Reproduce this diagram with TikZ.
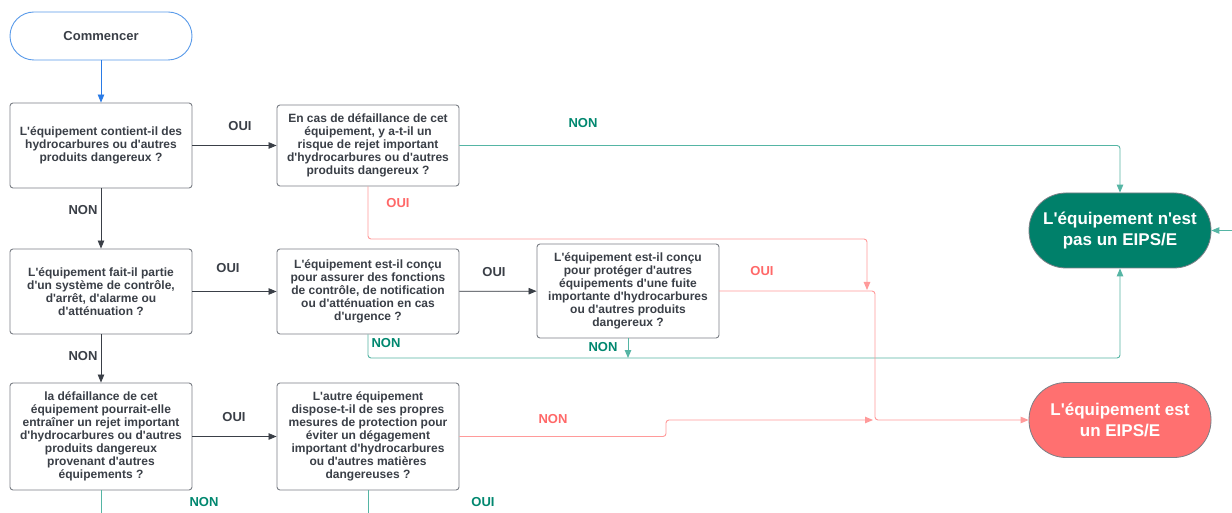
\documentclass[tikz,border=0pt]{standalone}
\usepackage{fontspec}
\setmainfont{Liberation Sans}[Ligatures=TeXOff]
\usetikzlibrary{arrows.meta}
\definecolor{ink}{HTML}{3A3F47}
\definecolor{frame}{HTML}{7B7F86}
\definecolor{tealfill}{HTML}{00806A}
\definecolor{tealline}{HTML}{55B5A4}
\definecolor{teallab}{HTML}{00876F}
\definecolor{redfill}{HTML}{FF7070}
\definecolor{redline}{HTML}{FF9A9A}
\definecolor{redlab}{HTML}{FF6868}
\definecolor{startblue}{HTML}{5A9BEA}
\definecolor{arrowblue}{HTML}{2A7BE6}
\tikzset{
  qbox/.style={draw=frame, line width=0.9pt, fill=white, rounded corners=3pt,
    minimum width=182pt, align=center, text=ink,
    font=\bfseries\fontsize{12}{13}\selectfont, inner sep=2pt},
  pill/.style={rounded corners=#1, minimum width=182pt, align=center},
  lab/.style={font=\bfseries\fontsize{13}{14}\selectfont, inner sep=0pt},
  tip/.style={-{Triangle[length=8pt,width=6.5pt]}},
  darkln/.style={draw=ink, line width=0.8pt},
  tealln/.style={draw=tealline, line width=0.9pt, rounded corners=3pt},
  tealtip/.style={tealln, tip, color=tealline},
  redln/.style={draw=redline, line width=0.9pt, rounded corners=3pt},
  redtip/.style={redln, tip, color=redline},
}
\begin{document}
\begin{tikzpicture}[x=1pt, y=-1pt]
\useasboundingbox[fill=white] (0,0) rectangle (1232,513);

% start and end terminals
\node[pill=24pt, draw=startblue, line width=0.9pt, fill=white, minimum height=48pt,
  text=ink, font=\bfseries\fontsize{13}{14}\selectfont] (start) at (101,36) {Commencer};
\node[pill=37pt, draw=frame, line width=0.8pt, fill=tealfill, minimum height=75pt,
  text=white, font=\bfseries\fontsize{17}{21}\selectfont] (notE) at (1120,230.5)
  {L'équipement n'est\\pas un EIPS/E};
\node[pill=37pt, draw=frame, line width=0.8pt, fill=redfill, minimum height=75pt,
  text=white, font=\bfseries\fontsize{17}{21}\selectfont] (isE) at (1120,420)
  {L'équipement est\\un EIPS/E};

% question boxes
\node[qbox, minimum height=85pt] (q1) at (101,145.5)
  {L'équipement contient-il des\\hydrocarbures ou d'autres\\produits dangereux ?};
\node[qbox, minimum height=81pt] (q2) at (368,145.5)
  {En cas de défaillance de cet\\équipement, y a-t-il un\\risque de rejet important\\d'hydrocarbures ou d'autres\\produits dangereux ?};
\node[qbox, minimum height=85pt] (q3) at (101,291.5)
  {L'équipement fait-il partie\\d'un système de contrôle,\\d'arrêt, d'alarme ou\\d'atténuation ?};
\node[qbox, minimum height=85pt] (q4) at (368,291.5)
  {L'équipement est-il conçu\\pour assurer des fonctions\\de contrôle, de notification\\ou d'atténuation en cas\\d'urgence ?};
\node[qbox, minimum height=94pt] (q5) at (628,291)
  {L'équipement est-il conçu\\pour protéger d'autres\\équipements d'une fuite\\importante d'hydrocarbures\\ou d'autres produits\\dangereux ?};
\node[qbox, minimum height=107pt] (q6) at (101,436.5)
  {la défaillance de cet\\équipement pourrait-elle\\entraîner un rejet important\\d'hydrocarbures ou d'autres\\produits dangereux\\provenant d'autres\\équipements ?};
\node[qbox, minimum height=107pt] (q7) at (368,436.5)
  {L'autre équipement\\dispose-t-il de ses propres\\mesures de protection pour\\éviter un dégagement\\important d'hydrocarbures\\ou d'autres matières\\dangereuses ?};

% routing points
\coordinate (rTop) at (867,239);
\coordinate (rDrop) at (867,290);
\coordinate (rMerge) at (875,291);
\coordinate (rStep) at (666,436.5);
\coordinate (rStepUp) at (666,420);
\coordinate (rIn) at (873,420);
\coordinate (tBus) at (368,358);
\coordinate (tDrop) at (628,358);
\coordinate (tRight) at (1240,230.5);
\coordinate (q6out) at (101,520);
\coordinate (q7out) at (368,520);

% main flow
\draw[tip, draw=arrowblue, fill=arrowblue, line width=0.8pt] (start) -- (q1);
\draw[tip, darkln, fill=ink] (q1) -- (q2);
\draw[tip, darkln, fill=ink] (q1) -- (q3);
\draw[tip, darkln, fill=ink] (q3) -- (q4);
\draw[tip, darkln, fill=ink] (q4) -- (q5);
\draw[tip, darkln, fill=ink] (q3) -- (q6);
\draw[tip, darkln, fill=ink] (q6) -- (q7);

% "not an EIPS/E" routes
\draw[tealtip] (q2.east) -- (q2.east -| notE) -- (notE.north);
\draw[tealtip] (q4.south) -- (tBus) -- (tBus -| notE) -- (notE.south);
\draw[tealtip] (q5.south) -- (tDrop);
\draw[tealtip] (tRight) -- (notE.east);
\draw[tealln] (q6.south) -- (q6out);
\draw[tealln] (q7.south) -- (q7out);

% "is an EIPS/E" routes
\draw[redtip] (q2.south) -- (q2.south |- rTop) -- (rTop) -- (rDrop);
\draw[redtip] (q5.east) -- (rMerge) -- (rMerge |- isE) -- (isE.west);
\draw[redtip] (q7.east) -- (rStep) -- (rStepUp) -- (rIn);

% answer labels
\node[lab, text=ink] (l1) at (240,126) {OUI};
\node[lab, text=ink] (l2) at (83,210) {NON};
\node[lab, text=teallab] (l3) at (583,123) {NON};
\node[lab, text=redlab] (l4) at (398,203) {OUI};
\node[lab, text=ink] (l5) at (228,268) {OUI};
\node[lab, text=ink] (l6) at (494,272) {OUI};
\node[lab, text=redlab] (l7) at (762,271) {OUI};
\node[lab, text=teallab] (l8) at (386,343) {NON};
\node[lab, text=teallab] (l9) at (603,347) {NON};
\node[lab, text=ink] (l10) at (83,356) {NON};
\node[lab, text=ink] (l11) at (234,417) {OUI};
\node[lab, text=redlab] (l12) at (553,419) {NON};
\node[lab, text=teallab] (l13) at (204,502) {NON};
\node[lab, text=teallab] (l14) at (483,502) {OUI};
\end{tikzpicture}
\end{document}
